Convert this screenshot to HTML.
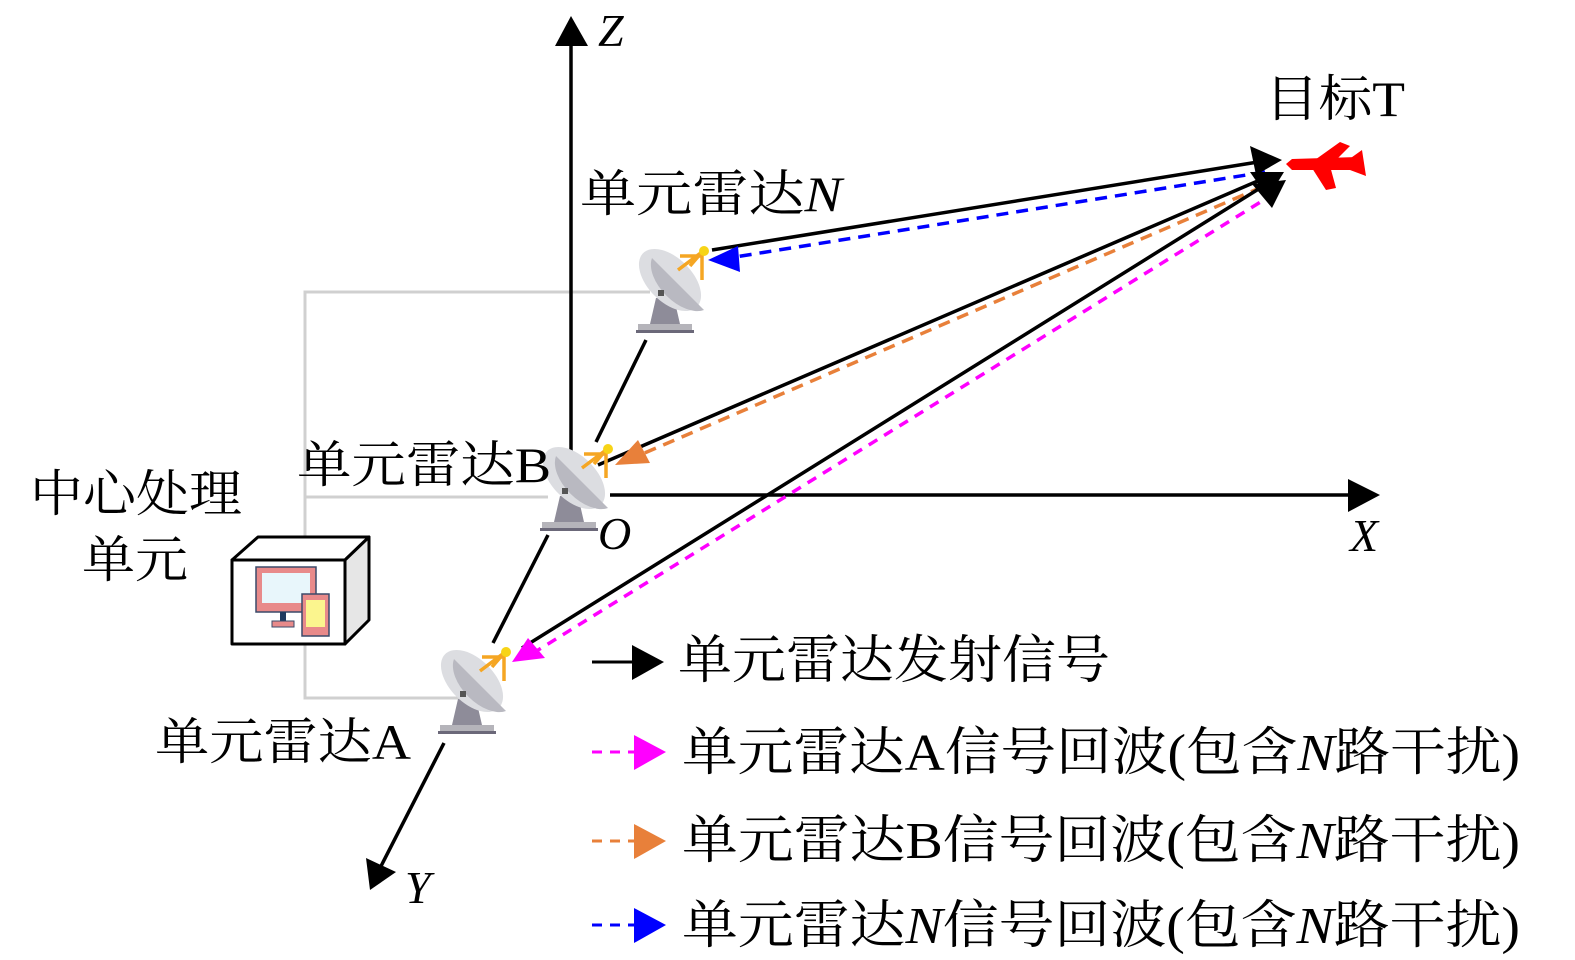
<!DOCTYPE html>
<html><head><meta charset="utf-8"><style>
html,body{margin:0;padding:0;background:#fff;}
svg{display:block;}
text{font-family:"Liberation Serif","Noto Serif CJK SC",serif;fill:#000;}
.it{font-style:italic;}
</style></head><body>
<svg width="1575" height="960" viewBox="0 0 1575 960" xmlns="http://www.w3.org/2000/svg">
<defs>
<g id="radar">
  <path d="M22,52 L40,52 L46,78 L16,78 Z" fill="#8e8c99"/>
  <rect x="4" y="78" width="54" height="6" fill="#b5b4ba"/>
  <rect x="2" y="84" width="58" height="3" fill="#6b6879"/>
  <ellipse cx="36" cy="34" rx="38" ry="22" transform="rotate(45 36 34)" fill="#dcdde1"/>
  <path d="M12,8 L64,60 A38,22 45 0 1 12,8 Z" fill="#b9b9c1" transform="translate(6,4)"/>
  <rect x="24" y="44" width="6" height="6" fill="#555"/>
  <path d="M44,24 L68,6 M46,10 L68,10 L68,34 M56,20 L68,6" stroke="#f5a623" stroke-width="3.5" fill="none"/>
  <circle cx="70" cy="5" r="5" fill="#f7d417"/>
</g>
</defs>

<!-- gray wiring -->
<g stroke="#d0d0d0" stroke-width="3" fill="none">
  <path d="M650,292 L305,292 L305,698 L460,698"/>
  <path d="M305,497 L548,497"/>
</g>

<!-- axes -->
<g stroke="#000" stroke-width="3.5">
  <line x1="571" y1="495" x2="571" y2="40"/>
  <line x1="610" y1="495" x2="1355" y2="495"/>
  <line x1="444" y1="743" x2="378" y2="872"/>
  <line x1="646" y1="340" x2="596" y2="442"/>
  <line x1="548" y1="535" x2="493" y2="643"/>
</g>
<polygon points="571,16 555,46 588,46" fill="#000"/>
<polygon points="1380,495 1348,479 1348,512" fill="#000"/>
<polygon points="370,890 366,858 396,872" fill="#000"/>

<!-- signal lines -->
<g stroke-width="3.5" fill="none">
  <line x1="712" y1="250" x2="1258" y2="162" stroke="#000"/>
  <line x1="1265" y1="172" x2="735" y2="257" stroke="#0000ff" stroke-dasharray="12,8"/>
  <line x1="598" y1="465" x2="1260" y2="180" stroke="#000"/>
  <line x1="1262" y1="187" x2="640" y2="455" stroke="#e8803a" stroke-dasharray="12,8"/>
  <line x1="522" y1="648" x2="1265" y2="185" stroke="#000"/>
  <line x1="1275" y1="193" x2="535" y2="652" stroke="#ff00ff" stroke-dasharray="10,8"/>
</g>
<polygon points="1282,160 1250,146 1256,175" fill="#000"/>
<polygon points="1284,172 1250,172 1268,198" fill="#000"/>
<polygon points="1286,180 1252,184 1272,208" fill="#000"/>
<polygon points="708,260 738,246 740,272" fill="#0000ff"/>
<polygon points="615,465 638,440 650,463" fill="#e8803a"/>
<polygon points="512,662 528,638 545,658" fill="#ff00ff"/>

<!-- airplane -->
<g fill="#ff0000">
  <path d="M1286,164 L1292,159 L1358,157 L1360,170 L1292,170 Z"/>
  <path d="M1312,162 L1340,142 L1350,146 L1332,164 Z"/>
  <path d="M1312,168 L1326,190 L1336,188 L1330,166 Z"/>
  <path d="M1348,160 L1362,150 L1366,176 L1350,170 Z"/>
</g>

<!-- radars -->
<use href="#radar" x="634" y="246"/>
<use href="#radar" x="538" y="444"/>
<use href="#radar" x="436" y="647"/>

<!-- processing box -->
<g stroke="#000" stroke-width="3" stroke-linejoin="round">
  <polygon points="232,560 258,537 369,537 345,560" fill="#fff"/>
  <polygon points="345,560 369,537 369,620 345,644" fill="#e6e6e6"/>
  <rect x="232" y="560" width="113" height="84" fill="#fff"/>
</g>
<rect x="256" y="567" width="60" height="45" fill="#e88a8a" stroke="#3a4a6a" stroke-width="1.5"/>
<rect x="262" y="573" width="48" height="30" fill="#e8f6fb"/>
<rect x="280" y="612" width="6" height="10" fill="#1f3a5f"/>
<rect x="272" y="621" width="22" height="6" fill="#e88a8a" stroke="#3a4a6a" stroke-width="1"/>
<rect x="302" y="594" width="27" height="42" fill="#e88a8a" stroke="#3a4a6a" stroke-width="1.5"/>
<rect x="306" y="600" width="19" height="27" fill="#fbf58e"/>

<!-- labels -->
<text x="598" y="46" font-size="46" class="it">Z</text>
<text x="1265" y="116" font-size="50" textLength="140" lengthAdjust="spacingAndGlyphs">目标T</text>
<text x="580" y="211" font-size="50" textLength="262" lengthAdjust="spacingAndGlyphs">单元雷达<tspan class="it">N</tspan></text>
<text x="297" y="482" font-size="50" textLength="254" lengthAdjust="spacingAndGlyphs">单元雷达B</text>
<text x="30" y="511" font-size="50" textLength="212" lengthAdjust="spacingAndGlyphs">中心处理</text>
<text x="82" y="577" font-size="50" textLength="106" lengthAdjust="spacingAndGlyphs">单元</text>
<text x="155" y="759" font-size="50" textLength="256" lengthAdjust="spacingAndGlyphs">单元雷达A</text>
<text x="598" y="549" font-size="46" class="it">O</text>
<text x="1350" y="551" font-size="46" class="it">X</text>
<text x="405" y="903" font-size="46" class="it">Y</text>

<!-- legend -->
<line x1="592" y1="662" x2="636" y2="662" stroke="#000" stroke-width="3"/>
<polygon points="664,662 632,645 632,680" fill="#000"/>
<line x1="592" y1="752" x2="636" y2="752" stroke="#ff00ff" stroke-width="3" stroke-dasharray="10,8"/>
<polygon points="666,752 634,735 634,770" fill="#ff00ff"/>
<line x1="592" y1="841" x2="636" y2="841" stroke="#e8803a" stroke-width="3" stroke-dasharray="10,8"/>
<polygon points="666,841 634,824 634,859" fill="#e8803a"/>
<line x1="592" y1="925" x2="636" y2="925" stroke="#0000ff" stroke-width="3" stroke-dasharray="10,8"/>
<polygon points="666,925 634,908 634,943" fill="#0000ff"/>

<text x="678" y="678" font-size="52" textLength="432" lengthAdjust="spacingAndGlyphs">单元雷达发射信号</text>
<text x="682" y="770" font-size="52" textLength="838" lengthAdjust="spacingAndGlyphs">单元雷达A信号回波(包含<tspan class="it">N</tspan>路干扰)</text>
<text x="682" y="858" font-size="52" textLength="838" lengthAdjust="spacingAndGlyphs">单元雷达B信号回波(包含<tspan class="it">N</tspan>路干扰)</text>
<text x="682" y="943" font-size="52" textLength="838" lengthAdjust="spacingAndGlyphs">单元雷达<tspan class="it">N</tspan>信号回波(包含<tspan class="it">N</tspan>路干扰)</text>
</svg>
</body></html>
